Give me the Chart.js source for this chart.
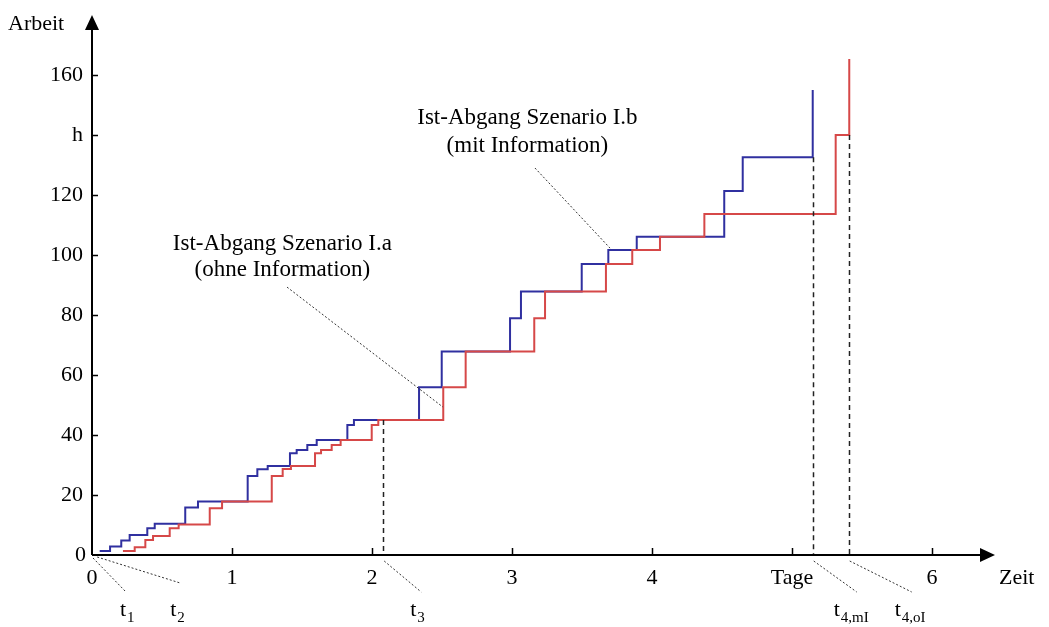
<!DOCTYPE html>
<html>
<head>
<meta charset="utf-8">
<title>Ist-Abgang</title>
<script src="https://cdn.jsdelivr.net/npm/chart.js@4.4.0/dist/chart.umd.min.js"></script>
<style>
  html, body { margin: 0; padding: 0; background: #fff; }
  #wrap { width: 1049px; height: 627px; }
</style>
</head>
<body>
<div id="wrap"><canvas id="workChart"></canvas></div>
<script>
// Szenario I.b (mit Information): step times in Tage, cumulative work in h
const blueT = [0.055, 0.129, 0.209, 0.269, 0.395, 0.448, 0.666, 0.757, 1.112, 1.181, 1.255, 1.414, 1.462, 1.538, 1.605, 1.824, 1.871, 2.336, 2.498, 2.986, 3.064, 3.498, 3.688, 3.891, 4.516, 4.648, 5.148];
const blueV = [1.3, 2.8, 4.8, 6.7, 8.9, 10.4, 15.8, 17.8, 26.3, 28.6, 29.7, 33.9, 35, 36.7, 38.3, 43.3, 45, 55.9, 67.8, 78.9, 87.8, 97, 101.7, 106.1, 121.3, 132.6, 155];

// Szenario I.a (ohne Information)
const redT = [0.221, 0.305, 0.381, 0.436, 0.555, 0.619, 0.841, 0.929, 1.284, 1.362, 1.421, 1.593, 1.636, 1.712, 1.776, 1.998, 2.045, 2.509, 2.669, 3.159, 3.236, 3.671, 3.859, 4.057, 4.374, 5.312, 5.409];
const redV = [1.3, 2.6, 5, 6.3, 8.9, 10.2, 15.6, 17.8, 26.3, 28.7, 29.7, 33.9, 35, 36.7, 38.3, 43.3, 45, 55.9, 67.8, 78.9, 87.8, 97, 101.7, 106.1, 113.7, 140, 165.3];

const yTicks = [20, 40, 60, 80, 100, 120, 140, 160];
const yTickLabels = ["20", "40", "60", "80", "100", "120", "h", "160"];
const xTicks = [1, 2, 3, 4, 5, 6];
const xTickLabels = ["1", "2", "3", "4", "Tage", "6"];

// dashed drop lines: t3, t4,mI, t4,oI
const dropT = [2.08, 5.148, 5.405];
const dropV = [45, 132.6, 140];

const FONT = '"Liberation Serif", "Times New Roman", serif';

const toPoints = (ts, vs) => ts.map((t, i) => ({ x: t, y: vs[i] }));

// time markers below the axis (leader from axis to label)
const timeMarks = [
  { at: 0,     sub: "1",    from: [1, 3],  to: [34, 37], label: 28 },
  { at: 0.03,  sub: "2",    from: [1, 2],  to: [84, 28], label: 74 },
  { at: dropT[0], sub: "3",    from: [1, 6],  to: [38, 37], label: 27 },
  { at: dropT[1], sub: "4,mI", from: [1, 6],  to: [44, 37], label: 21 },
  { at: dropT[2], sub: "4,oI", from: [1, 6],  to: [63, 37], label: 46 },
];

// curve captions with leader lines (in axis units)
const captions = [
  { lines: ["Ist-Abgang Szenario I.a", "(ohne Information)"], x: 1.36, y: [103.7, 95], lead: [[1.393, 89.3], [2.507, 49.3]] },
  { lines: ["Ist-Abgang Szenario I.b", "(mit Information)"], x: 3.11, y: [145.7, 136.3], lead: [[3.164, 129], [3.70, 102.3]] },
];

const axesPlugin = {
  id: "axesPlugin",
  afterDatasetsDraw(chart) {
    const { ctx, scales: { x, y } } = chart;
    const x0 = x.getPixelForValue(0);
    const y0 = y.getPixelForValue(0);
    ctx.save();

    // dashed drops
    ctx.strokeStyle = "#222";
    ctx.lineWidth = 1.5;
    ctx.setLineDash([5, 4]);
    dropT.forEach((t, i) => {
      const px = Math.round(x.getPixelForValue(t)) + 0.5;
      ctx.beginPath();
      ctx.moveTo(px, y.getPixelForValue(dropV[i]));
      ctx.lineTo(px, y0);
      ctx.stroke();
    });

    // dotted leaders
    ctx.lineWidth = 1;
    ctx.setLineDash([2, 2]);
    ctx.strokeStyle = "#333";
    captions.forEach(c => {
      ctx.beginPath();
      ctx.moveTo(x.getPixelForValue(c.lead[0][0]), y.getPixelForValue(c.lead[0][1]));
      ctx.lineTo(x.getPixelForValue(c.lead[1][0]), y.getPixelForValue(c.lead[1][1]));
      ctx.stroke();
    });
    timeMarks.forEach(m => {
      const px = x.getPixelForValue(m.at);
      ctx.beginPath();
      ctx.moveTo(px + m.from[0], y0 + m.from[1]);
      ctx.lineTo(px + m.to[0], y0 + m.to[1]);
      ctx.stroke();
    });
    ctx.setLineDash([]);

    // axes with arrow heads
    const xEnd = x.getPixelForValue(6.45);
    const yEnd = y.getPixelForValue(180);
    ctx.strokeStyle = "#000";
    ctx.fillStyle = "#000";
    ctx.lineWidth = 2;
    ctx.beginPath();
    ctx.moveTo(x0, y0);
    ctx.lineTo(xEnd - 10, y0);
    ctx.moveTo(x0, y0);
    ctx.lineTo(x0, yEnd + 10);
    ctx.stroke();
    ctx.beginPath();
    ctx.moveTo(xEnd, y0);
    ctx.lineTo(xEnd - 15, y0 - 7);
    ctx.lineTo(xEnd - 15, y0 + 7);
    ctx.closePath();
    ctx.fill();
    ctx.beginPath();
    ctx.moveTo(x0, yEnd);
    ctx.lineTo(x0 - 7, yEnd + 15);
    ctx.lineTo(x0 + 7, yEnd + 15);
    ctx.closePath();
    ctx.fill();

    // ticks
    ctx.lineWidth = 1.5;
    ctx.beginPath();
    yTicks.forEach(v => {
      const py = Math.round(y.getPixelForValue(v)) + 0.5;
      ctx.moveTo(x0, py);
      ctx.lineTo(x0 + 6, py);
    });
    xTicks.forEach(v => {
      const px = Math.round(x.getPixelForValue(v)) + 0.5;
      ctx.moveTo(px, y0);
      ctx.lineTo(px, y0 - 7);
    });
    ctx.stroke();

    // tick labels
    ctx.font = "22px " + FONT;
    ctx.textBaseline = "middle";
    ctx.textAlign = "right";
    yTicks.forEach((v, i) => ctx.fillText(yTickLabels[i], x0 - 9, y.getPixelForValue(v)));
    ctx.fillText("0", x0 - 6, y0);
    ctx.textAlign = "center";
    xTicks.forEach((v, i) => ctx.fillText(xTickLabels[i], x.getPixelForValue(v), y0 + 23));
    ctx.fillText("0", x0, y0 + 23);
    ctx.textAlign = "left";
    ctx.fillText("Zeit", xEnd + 4, y0 + 23);
    ctx.font = "22px " + FONT;
    ctx.fillText("Arbeit", 8, yEnd + 9);

    // captions
    ctx.font = "23px " + FONT;
    ctx.textAlign = "center";
    captions.forEach(c => {
      c.lines.forEach((s, i) => ctx.fillText(s, x.getPixelForValue(c.x), y.getPixelForValue(c.y[i])));
    });

    // t labels with subscripts
    ctx.textAlign = "left";
    ctx.textBaseline = "alphabetic";
    timeMarks.forEach(m => {
      const px = x.getPixelForValue(m.at) + m.label;
      ctx.font = "22px " + FONT;
      ctx.fillText("t", px, y0 + 61);
      const w = ctx.measureText("t").width;
      ctx.font = "15px " + FONT;
      ctx.fillText(m.sub, px + w + 1, y0 + 67);
    });

    ctx.restore();
  }
};

new Chart(document.getElementById("workChart"), {
  type: "scatter",
  data: {
    datasets: [
      {
        label: "Szenario I.a",
        data: toPoints(redT, redV),
        borderColor: "rgb(214, 72, 72)",
        borderWidth: 2,
        showLine: true,
        stepped: "before",
        pointRadius: 0,
      },
      {
        label: "Szenario I.b",
        data: toPoints(blueT, blueV),
        borderColor: "rgb(48, 48, 160)",
        borderWidth: 2,
        showLine: true,
        stepped: "before",
        pointRadius: 0,
      },
    ],
  },
  options: {
    responsive: true,
    maintainAspectRatio: false,
    animation: false,
    layout: { padding: { left: 92, right: 47, top: 12, bottom: 72 } },
    plugins: { legend: { display: false }, tooltip: { enabled: false } },
    scales: {
      x: { type: "linear", min: 0, max: 6.5, display: false },
      y: { type: "linear", min: 0, max: 181, display: false },
    },
  },
  plugins: [axesPlugin],
});
</script>
</body>
</html>
